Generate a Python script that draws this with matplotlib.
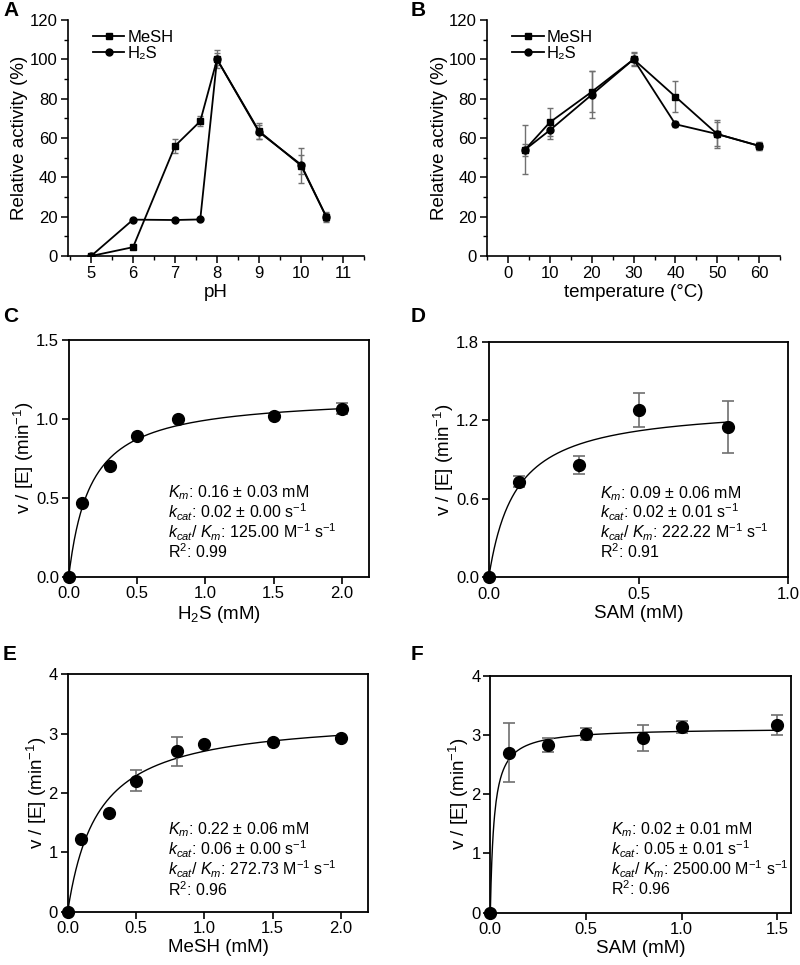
import numpy as np
import matplotlib
matplotlib.use("Agg")
import matplotlib.pyplot as plt
from matplotlib.ticker import MultipleLocator

plt.rcParams['font.family'] = ['Liberation Sans', 'DejaVu Sans']
plt.rcParams['mathtext.fontset'] = 'custom'
plt.rcParams['mathtext.rm'] = 'Liberation Sans'
plt.rcParams['mathtext.it'] = 'Liberation Sans:italic'
plt.rcParams['mathtext.bf'] = 'Liberation Sans:bold'

# --- panel A: pH profile
ph = [5, 6, 7, 7.6, 8, 9, 10, 10.6]
ph_mesh = [0, 4.5, 56, 68.5, 100, 63.5, 46, 20]
ph_mesh_err = [0, 0.8, 3.5, 2.5, 4.5, 4, 9, 2.5]
ph_h2s = [0, 18.5, 18.3, 18.6, 100, 63, 46.5, 20]
ph_h2s_err = [0, 0.5, 0.5, 0.5, 3, 3.5, 5, 2]

# --- panel B: temperature profile
temp = [4, 10, 20, 30, 40, 50, 60]
temp_mesh = [54, 68, 83.5, 100, 81, 62, 56]
temp_mesh_err = [12.5, 7, 10.5, 3.5, 8, 7, 2]
temp_h2s = [54, 64, 82, 100, 67, 62, 56]
temp_h2s_err = [3, 4.5, 12, 3, 1.5, 6, 2]

# --- panels C-F: kinetics (substrate mM, v/[E] min-1, error)
c_x = [0, 0.1, 0.3, 0.5, 0.8, 1.5, 2.0]
c_y = [0, 0.465, 0.70, 0.89, 1.00, 1.02, 1.065]
c_err = [0, 0, 0, 0, 0, 0, 0.035]
c_fit = (1.15, 0.16)  # Vmax, Km

d_x = [0, 0.1, 0.3, 0.5, 0.8]
d_y = [0, 0.73, 0.86, 1.28, 1.15]
d_err = [0, 0.04, 0.07, 0.13, 0.20]
d_fit = (1.32, 0.09)

e_x = [0, 0.1, 0.3, 0.5, 0.8, 1.0, 1.5, 2.0]
e_y = [0, 1.22, 1.67, 2.21, 2.70, 2.83, 2.86, 2.92]
e_err = [0, 0, 0, 0.17, 0.24, 0, 0, 0]
e_fit = (3.30, 0.22)

f_x = [0, 0.1, 0.3, 0.5, 0.8, 1.0, 1.5]
f_y = [0, 2.70, 2.83, 3.02, 2.95, 3.13, 3.17]
f_err = [0, 0.50, 0.11, 0.10, 0.22, 0.10, 0.17]
f_fit = (3.12, 0.02)

c_text = [r'$K_m$: 0.16 ± 0.03 mM', r'$k_{cat}$: 0.02 ± 0.00 s$^{-1}$',
          r'$k_{cat}$/ $K_m$: 125.00 M$^{-1}$ s$^{-1}$', r'R$^2$: 0.99']
d_text = [r'$K_m$: 0.09 ± 0.06 mM', r'$k_{cat}$: 0.02 ± 0.01 s$^{-1}$',
          r'$k_{cat}$/ $K_m$: 222.22 M$^{-1}$ s$^{-1}$', r'R$^2$: 0.91']
e_text = [r'$K_m$: 0.22 ± 0.06 mM', r'$k_{cat}$: 0.06 ± 0.00 s$^{-1}$',
          r'$k_{cat}$/ $K_m$: 272.73 M$^{-1}$ s$^{-1}$', r'R$^2$: 0.96']
f_text = [r'$K_m$: 0.02 ± 0.01 mM', r'$k_{cat}$: 0.05 ± 0.01 s$^{-1}$',
          r'$k_{cat}$/ $K_m$: 2500.00 M$^{-1}$ s$^{-1}$', r'R$^2$: 0.96']

ERR_COLOR = '#707070'
TICK_FS = 12
LABEL_FS = 13.5


def profile_panel(ax, x, mesh, mesh_err, h2s, h2s_err, xlabel):
    m = ax.errorbar(x, mesh, yerr=mesh_err, color='black', marker='s', ms=4.5,
                    lw=1.3, ecolor=ERR_COLOR, elinewidth=1, capsize=2)
    h = ax.errorbar(x, h2s, yerr=h2s_err, color='black', marker='o', ms=5,
                    lw=1.3, ecolor=ERR_COLOR, elinewidth=1, capsize=2)
    for s in ['top', 'right']:
        ax.spines[s].set_visible(False)
    for s in ['left', 'bottom']:
        ax.spines[s].set_linewidth(1.2)
    ax.set_ylim(0, 120)
    ax.yaxis.set_major_locator(MultipleLocator(20))
    ax.yaxis.set_minor_locator(MultipleLocator(10))
    ax.tick_params(which='major', direction='out', length=5, width=1.1,
                   pad=2.5, labelsize=TICK_FS)
    ax.tick_params(which='minor', direction='out', length=3, width=1)
    ax.set_ylabel('Relative activity (%)', fontsize=LABEL_FS, labelpad=1)
    ax.set_xlabel(xlabel, fontsize=LABEL_FS, labelpad=2)
    # legend shows only the line + marker, not the error bars
    ax.legend([m[0], h[0]], ['MeSH', 'H₂S'], loc='upper left', frameon=False,
              fontsize=12, handlelength=1.9, handletextpad=0.2, labelspacing=0.05,
              borderaxespad=0.2, bbox_to_anchor=(0.05, 1.0))


def kinetics_panel(ax, x, y, err, fit, xmax, ymax, yticks, xticks, lines, tx, ty):
    vmax, km = fit
    xs = np.linspace(0, max(x), 400)
    ax.plot(xs, vmax * xs / (km + xs), color='black', lw=1)
    ax.errorbar(x, y, yerr=err, fmt='o', color='black', ms=8.5,
                ecolor=ERR_COLOR, elinewidth=1.2, capsize=4, capthick=1.2,
                clip_on=False, zorder=3)
    ax.set_xlim(0, xmax)
    ax.set_ylim(0, ymax)
    ax.set_xticks(xticks)
    ax.set_yticks(yticks)
    for s in ax.spines.values():
        s.set_linewidth(1.3)
    ax.tick_params(direction='out', length=5, width=1.2, pad=2,
                   labelsize=TICK_FS)
    ax.set_ylabel('v / [E] (min$^{-1}$)', fontsize=LABEL_FS, labelpad=0)
    for i, t in enumerate(lines):
        ax.text(tx, ty - i * 0.083, t, transform=ax.transAxes, fontsize=11.5,
                va='center', ha='left')


fig = plt.figure(figsize=(8, 9.65), dpi=100)

axA = fig.add_axes([0.085, 0.7347, 0.37, 0.2446])
profile_panel(axA, ph, ph_mesh, ph_mesh_err, ph_h2s, ph_h2s_err, 'pH')
axA.set_xlim(4.45, 11.5)
axA.xaxis.set_major_locator(MultipleLocator(1))
axA.xaxis.set_minor_locator(MultipleLocator(0.5))

axB = fig.add_axes([0.609, 0.7347, 0.366, 0.2446])
profile_panel(axB, temp, temp_mesh, temp_mesh_err, temp_h2s, temp_h2s_err,
              'temperature (°C)')
axB.set_xlim(-5, 65)
axB.xaxis.set_major_locator(MultipleLocator(10))
axB.xaxis.set_minor_locator(MultipleLocator(5))

axC = fig.add_axes([0.0859, 0.4024, 0.3758, 0.2453])
kinetics_panel(axC, c_x, c_y, c_err, c_fit, 2.2, 1.5, [0, 0.5, 1.0, 1.5],
               [0, 0.5, 1.0, 1.5, 2.0], c_text, 0.33, 0.354)
axC.set_yticklabels(['0.0', '0.5', '1.0', '1.5'])
axC.set_xticklabels(['0.0', '0.5', '1.0', '1.5', '2.0'])
axC.set_xlabel('H$_2$S (mM)', fontsize=LABEL_FS, labelpad=2)

axD = fig.add_axes([0.611, 0.4018, 0.3745, 0.2441])
kinetics_panel(axD, d_x, d_y, d_err, d_fit, 1.0, 1.8, [0, 0.6, 1.2, 1.8],
               [0, 0.5, 1.0], d_text, 0.371, 0.357)
axD.set_yticklabels(['0.0', '0.6', '1.2', '1.8'])
axD.set_xticklabels(['0.0', '0.5', '1.0'])
axD.set_xlabel('SAM (mM)', fontsize=LABEL_FS, labelpad=2)

axE = fig.add_axes([0.0846, 0.0552, 0.3758, 0.246])
kinetics_panel(axE, e_x, e_y, e_err, e_fit, 2.2, 4, [0, 1, 2, 3, 4],
               [0, 0.5, 1.0, 1.5, 2.0], e_text, 0.335, 0.344)
axE.set_xticklabels(['0.0', '0.5', '1.0', '1.5', '2.0'])
axE.set_xlabel('MeSH (mM)', fontsize=LABEL_FS, labelpad=2)

axF = fig.add_axes([0.6129, 0.0542, 0.3755, 0.2456])
kinetics_panel(axF, f_x, f_y, f_err, f_fit, 1.57, 4, [0, 1, 2, 3, 4],
               [0, 0.5, 1.0, 1.5], f_text, 0.402, 0.349)
axF.set_xticklabels(['0.0', '0.5', '1.0', '1.5'])
axF.set_xlabel('SAM (mM)', fontsize=LABEL_FS, labelpad=2)

# panel letters
for lab, (px, py) in {'A': (3, 10), 'B': (411, 10), 'C': (3, 317),
                      'D': (411, 317), 'E': (3, 655), 'F': (411, 655)}.items():
    fig.text(px / 800, 1 - py / 965, lab, fontsize=15, fontweight='bold',
             va='center', ha='left')

fig.savefig('out.png', dpi=100)
